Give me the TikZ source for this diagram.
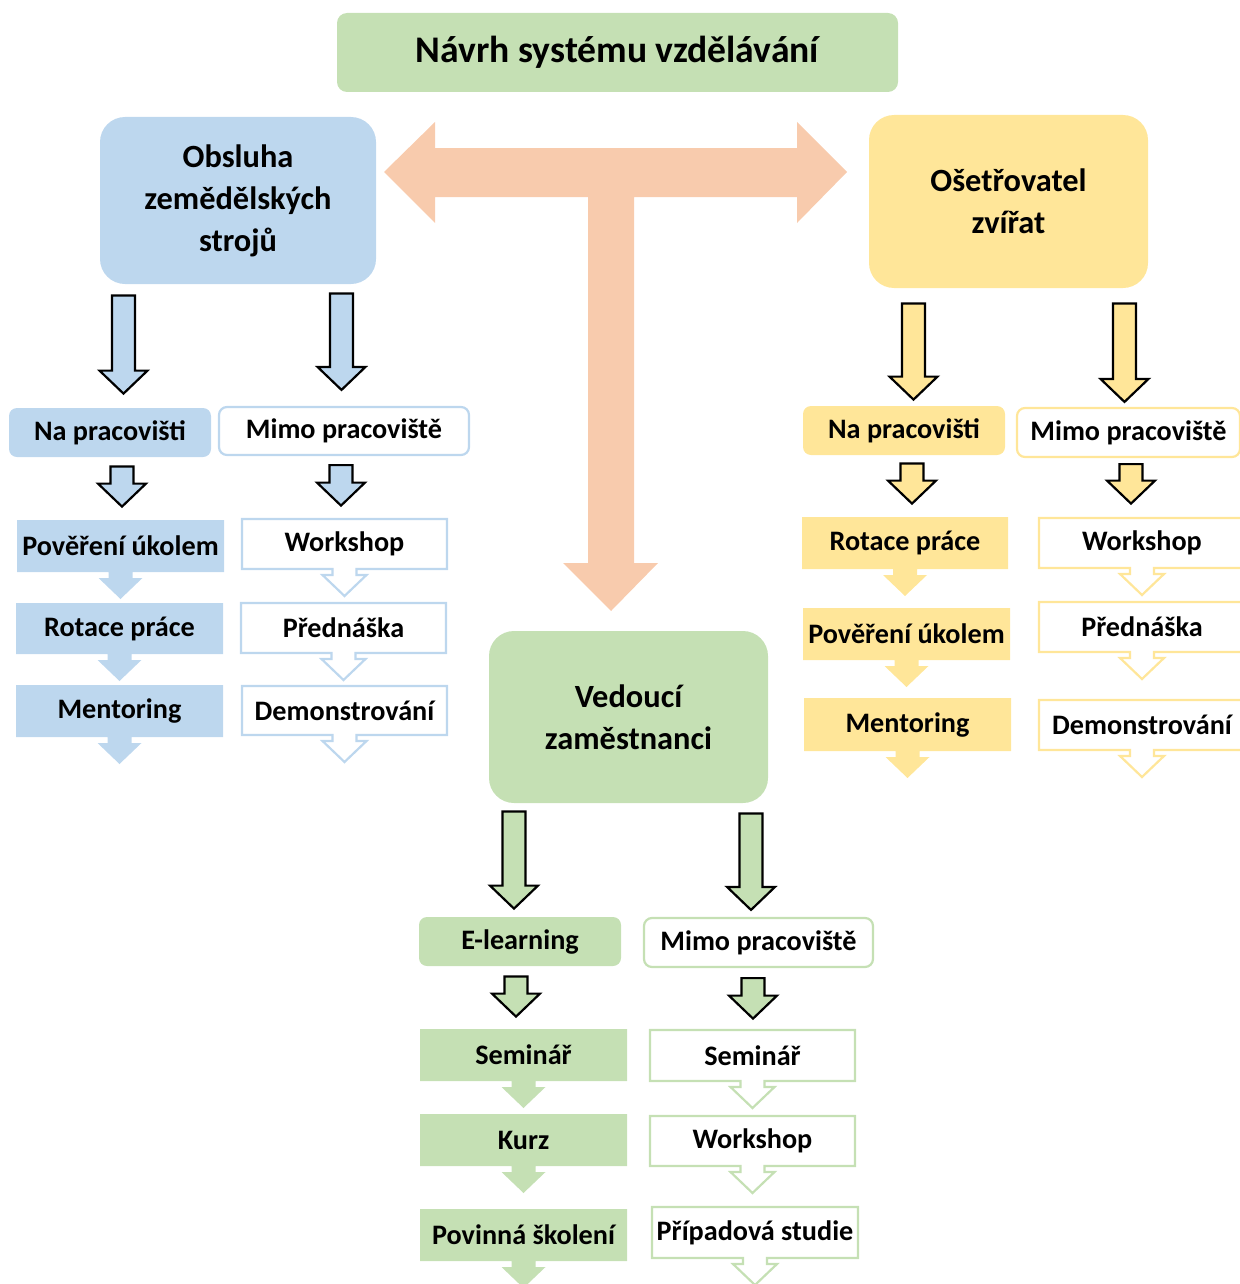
\documentclass[tikz,border=0pt]{standalone}
\usepackage{fontspec}
\setmainfont{Carlito}
\usetikzlibrary{calc}

\definecolor{modra}{HTML}{BDD7EE}
\definecolor{zluta}{HTML}{FFE699}
\definecolor{zelena}{HTML}{C5E0B4}
\definecolor{oranz}{HTML}{F8CBAD}

\tikzset{
  hlavni/.style={rounded corners=12.5pt, align=center, inner sep=0pt,
    font=\fontsize{16.2}{21}\selectfont\bfseries},
  mistobox/.style={rounded corners=4pt, inner sep=0pt, minimum width=101pt,
    minimum height=24.5pt, font=\fontsize{14.1}{16}\selectfont\bfseries},
  plnyproc/.style={fill=#1},
  obrysproc/.style={draw=#1, fill=white, line width=1.1pt},
  sipka/.style={draw=black, line width=1.1pt, line join=miter, fill=#1},
}

% box with a small arrow under it: style, name, x1, y1, x2, y2, text
\newcommand{\procbox}[7]{%
  \path[#1] (#3,#4) -- (#5,#4) -- (#5,#6) -- ({(#3+#5)/2+12},#6) -- ++(0,6) -- ++(10,0)
    -- ({(#3+#5)/2},#6+27) -- ({(#3+#5)/2-22},#6+6) -- ++(10,0) -- ({(#3+#5)/2-12},#6)
    -- (#3,#6) -- cycle;
  \node[inner sep=0pt, minimum width={(#5-#3)*0.5pt}, minimum height={(#6-#4)*0.5pt},
    font=\fontsize{14.1}{16}\selectfont\bfseries] (#2) at ({(#3+#5)/2},{(#4+#6)/2}) {#7};}

% block arrow between two nodes: fill, from, dx, gap, to, gap
\newcommand{\blockarrow}[6]{%
  \coordinate (ta) at ($(#2.south)+(#3,#4)$);
  \coordinate (tb) at ($(#5.north)+(0,-#6)$);
  \draw[sipka=#1] ($(ta)+(-11.5,0)$) -- ($(ta)+(11.5,0)$) -- ($(ta |- tb)+(11.5,-23)$)
    -- ($(ta |- tb)+(24,-23)$) -- (ta |- tb) -- ($(ta |- tb)+(-24,-23)$)
    -- ($(ta |- tb)+(-11.5,-23)$) -- cycle;}

\begin{document}
\begin{tikzpicture}[x=0.5pt,y=0.5pt,yscale=-1]
\useasboundingbox (0,0) rectangle (1240,1284);

%Shape: T arrow
\fill[oranz] (384,172) -- (435,122) -- (435,148) -- (797,148) -- (797,122) -- (847,172)
  -- (797,223) -- (797,197) -- (634,197) -- (634,563) -- (658,563) -- (611,611)
  -- (563,563) -- (588,563) -- (588,197) -- (435,197) -- (435,223) -- cycle;

% Main boxes
\node[fill=zelena, rounded corners=5pt, minimum width=280.5pt, minimum height=39.5pt,
  font=\fontsize{18.8}{22}\selectfont\bfseries] (title) at (617.5,52.5) {Návrh systému vzdělávání};
\node[hlavni, fill=modra, minimum width=138pt, minimum height=83.5pt] (obsluha) at (238,200.5)
  {Obsluha\\zemědělských\\strojů};
\node[hlavni, fill=zluta, minimum width=139.5pt, minimum height=86.5pt] (osetrovatel) at (1008.5,201.5)
  {Ošetřovatel\\zvířat};
\node[hlavni, fill=zelena, minimum width=139.5pt, minimum height=86pt] (vedouci) at (628.5,717)
  {Vedoucí\\zaměstnanci};

% Place boxes
\node[mistobox, fill=modra] (bNa) at (110,432.5) {Na pracovišti};
\node[mistobox, draw=modra, line width=1.1pt, fill=white, minimum width=125pt, minimum height=24pt]
  (bMimo) at (344,431) {Mimo pracoviště};
\node[mistobox, fill=zluta] (yNa) at (904,430.5) {Na pracovišti};
\node[mistobox, draw=zluta, line width=1.1pt, fill=white, minimum width=111.5pt]
  (yMimo) at (1128.5,432.5) {Mimo pracoviště};
\node[mistobox, fill=zelena] (gElearn) at (520,941.5) {E-learning};
\node[mistobox, draw=zelena, line width=1.1pt, fill=white, minimum width=114.5pt]
  (gMimo) at (758.5,942.5) {Mimo pracoviště};

% Obsluha column
\procbox{plnyproc=modra}{bPover}{17}{520}{224}{572}{Pověření úkolem}
\procbox{plnyproc=modra}{bRot}{16}{603}{223}{654}{Rotace práce}
\procbox{plnyproc=modra}{bMent}{16}{685}{223}{737}{Mentoring}
\procbox{obrysproc=modra}{bWork}{242}{519}{447}{569}{Workshop}
\procbox{obrysproc=modra}{bPredn}{241}{603}{446}{653}{Přednáška}
\procbox{obrysproc=modra}{bDemo}{242}{686}{447}{735}{Demonstrování}

% Osetrovatel column
\procbox{plnyproc=zluta}{yRot}{802}{517}{1008}{569}{Rotace práce}
\procbox{plnyproc=zluta}{yPover}{803}{608}{1010}{660}{Pověření úkolem}
\procbox{plnyproc=zluta}{yMent}{804}{698}{1011}{751}{Mentoring}
\procbox{obrysproc=zluta}{yWork}{1039}{518}{1245}{568}{Workshop}
\procbox{obrysproc=zluta}{yPredn}{1039}{602}{1245}{652}{Přednáška}
\procbox{obrysproc=zluta}{yDemo}{1039}{700}{1245}{750}{Demonstrování}

% Vedouci column
\procbox{plnyproc=zelena}{gSem}{420}{1029}{627}{1081}{Seminář}
\procbox{plnyproc=zelena}{gKurz}{420}{1114}{627}{1166}{Kurz}
\procbox{plnyproc=zelena}{gPovin}{420}{1209}{627}{1261}{Povinná školení}
\procbox{obrysproc=zelena}{gSem2}{650}{1030}{855}{1081}{Seminář}
\procbox{obrysproc=zelena}{gWork}{650}{1116}{855}{1166}{Workshop}
\procbox{obrysproc=zelena}{gPrip}{652}{1207}{858}{1258}{Případová studie}

% Arrows
\blockarrow{modra}{obsluha}{-114.5}{11}{bNa}{14}
\blockarrow{modra}{obsluha}{103.5}{9}{bMimo}{16}
\blockarrow{modra}{bNa}{12}{9}{bPover}{13}
\blockarrow{modra}{bMimo}{-3}{9}{bWork}{13}
\blockarrow{zluta}{osetrovatel}{-95}{15}{yNa}{6}
\blockarrow{zluta}{osetrovatel}{116}{15}{yMimo}{5}
\blockarrow{zluta}{yNa}{8}{8}{yRot}{13}
\blockarrow{zluta}{yMimo}{2.5}{6}{yWork}{14}
\blockarrow{zelena}{vedouci}{-114.5}{8}{gElearn}{8}
\blockarrow{zelena}{vedouci}{122.5}{10}{gMimo}{7}
\blockarrow{zelena}{gElearn}{-4}{10}{gSem}{12}
\blockarrow{zelena}{gMimo}{-5.5}{10}{gSem2}{11}
\end{tikzpicture}
\end{document}
